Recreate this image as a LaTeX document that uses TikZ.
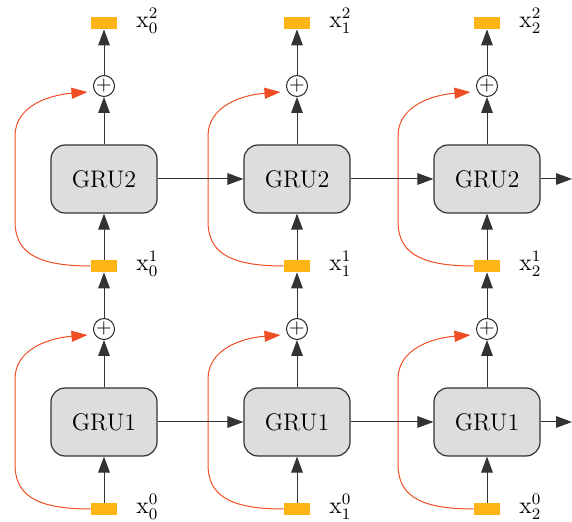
\documentclass[tikz,border=0pt]{standalone}
\usepackage{amsmath}
\usepackage{tikz}
\usetikzlibrary{arrows.meta}
\definecolor{gruFill}{HTML}{DCDDDE}
\definecolor{xFill}{HTML}{FDB515}
\definecolor{skipRed}{HTML}{F04E23}

\begin{document}
\begin{tikzpicture}[x=0.5pt,y=-0.5pt,
  gru/.style={draw=black!80,fill=gruFill,rounded corners=7pt,line width=0.6pt,
    minimum width=53pt,minimum height=34pt,font=\fontsize{12}{14}\selectfont},
  xbox/.style={fill=xFill,minimum width=13pt,minimum height=6pt,inner sep=0pt},
  plus/.style={circle,draw=black!85,line width=0.5pt,minimum size=10.5pt,inner sep=0pt},
  xlab/.style={anchor=west,xshift=6pt,yshift=1pt,font=\fontsize{12}{14}\selectfont},
  flow/.style={draw=black!80,line width=0.5pt,-{Triangle[length=8pt,width=5.8pt]}},
  skip/.style={draw=skipRed,line width=0.5pt,shorten >=3.5pt,
    -{Triangle[length=8pt,width=5.5pt,fill=skipRed]}}]

  \useasboundingbox (0,0) rectangle (572,522);

  \foreach \i/\cx in {0/104,1/297,2/487}{
    \node[xbox] (x0\i) at (\cx,509) {};
    \node[gru] (g1\i) at (\cx,422) {GRU1};
    \node[plus] (p1\i) at (\cx,329) {$+$};
    \node[xbox] (x1\i) at (\cx,266) {};
    \node[gru] (g2\i) at (\cx,179) {GRU2};
    \node[plus] (p2\i) at (\cx,86) {$+$};
    \node[xbox] (x2\i) at (\cx,23) {};

    \node[xlab] (l0\i) at (x0\i.east) {$\mathrm{x}_{\i}^{0}$};
    \node[xlab] (l1\i) at (x1\i.east) {$\mathrm{x}_{\i}^{1}$};
    \node[xlab] (l2\i) at (x2\i.east) {$\mathrm{x}_{\i}^{2}$};

    \draw[flow] (x0\i) -- (g1\i);
    \draw[flow] (g1\i) -- (p1\i);
    \draw[flow] (p1\i) -- (x1\i);
    \draw[flow] (x1\i) -- (g2\i);
    \draw[flow] (g2\i) -- (p2\i);
    \draw[flow] (p2\i) -- (x2\i);

    %% residual paths, input box -> adder
    \draw[skip] (x0\i.west) .. controls (\cx-70,509) and (\cx-89,494) .. (\cx-89,464)
      -- (\cx-89,379) .. controls (\cx-89,349) and (\cx-55,338) .. (p1\i.210);
    \draw[skip] (x1\i.west) .. controls (\cx-70,266) and (\cx-89,251) .. (\cx-89,221)
      -- (\cx-89,136) .. controls (\cx-89,106) and (\cx-55,95) .. (p2\i.210);
  }

  \coordinate (out1) at (572,422);
  \coordinate (out2) at (572,179);

  \draw[flow] (g10) -- (g11);
  \draw[flow] (g11) -- (g12);
  \draw[flow] (g12) -- (out1);
  \draw[flow] (g20) -- (g21);
  \draw[flow] (g21) -- (g22);
  \draw[flow] (g22) -- (out2);

\end{tikzpicture}
\end{document}
